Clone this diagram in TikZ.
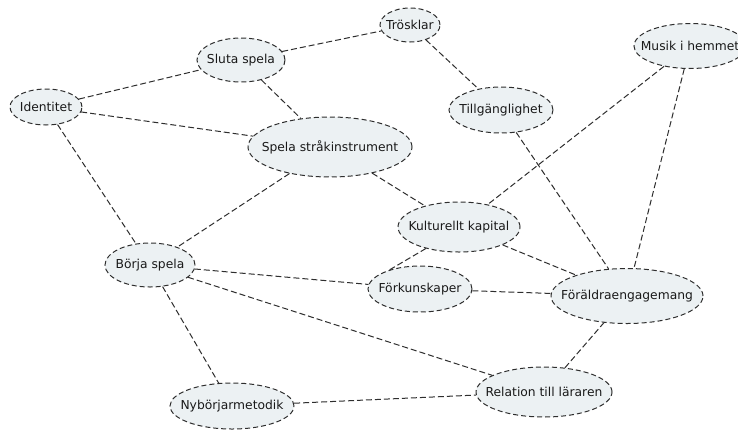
\documentclass[tikz,border=0pt]{standalone}
\usepackage{fontspec}
\setmainfont{DejaVu Sans}
\usetikzlibrary{shapes.geometric}
\definecolor{nodefill}{HTML}{ECF1F3}
\definecolor{linecol}{HTML}{2E2E2E}
\newcommand{\ztext}[1]{\makebox[0pt]{#1}}
\tikzset{
  topic/.style={ellipse, draw=linecol, fill=nodefill, line width=1pt,
    dash pattern=on 5pt off 3pt, inner sep=0pt, text=black!90,
    font=\fontsize{12.3}{14}\selectfont},
  link/.style={draw=linecol, line width=1pt, dash pattern=on 6pt off 3pt}
}
\begin{document}
\begin{tikzpicture}[x=1pt,y=-1pt]
\useasboundingbox (0,0) rectangle (738,429);
\fill[white] (0,0) rectangle (738,429);
\path
 (46,107) coordinate (cid)
 (241,60) coordinate (csl)
 (410,25) coordinate (ctr)
 (690,46) coordinate (cmu)
 (501,110) coordinate (cti)
 (330,147) coordinate (csp)
 (459,227) coordinate (cku)
 (420,289) coordinate (cfo)
 (627,296) coordinate (cfr)
 (544,392) coordinate (cre)
 (232,406) coordinate (cny)
 (150,265) coordinate (cbo);
\node[topic, minimum width=72, minimum height=36] (id) at (cid) {\ztext{Identitet}};
\node[topic, minimum width=88, minimum height=44] (sl) at (csl) {\ztext{Sluta spela}};
\node[topic, minimum width=60, minimum height=34] (tr) at (ctr) {\ztext{Trösklar}};
\node[topic, minimum width=112, minimum height=45] (mu) at (cmu) {\ztext{Musik i hemmet}};
\node[topic, minimum width=104, minimum height=46] (ti) at (cti) {\ztext{Tillgänglighet}};
\node[topic, minimum width=164, minimum height=60] (sp) at (csp) {\ztext{Spela stråkinstrument}};
\node[topic, minimum width=122, minimum height=50] (ku) at (cku) {\ztext{Kulturellt kapital}};
\node[topic, minimum width=104, minimum height=46] (fo) at (cfo) {\ztext{Förkunskaper}};
\node[topic, minimum width=152, minimum height=55] (fr) at (cfr) {\ztext{Föräldraengagemang}};
\node[topic, minimum width=136, minimum height=50] (re) at (cre) {\ztext{Relation till läraren}};
\node[topic, minimum width=124, minimum height=46] (ny) at (cny) {\ztext{Nybörjarmetodik}};
\node[topic, minimum width=90, minimum height=44] (bo) at (cbo) {\ztext{Börja spela}};
\draw[link] (id) -- (sl);
\draw[link] (id) -- (sp);
\draw[link] (id) -- (bo);
\draw[link] (sl) -- (tr);
\draw[link] (sl) -- (sp);
\draw[link] (tr) -- (ti);
\draw[link] (ti) -- (fr);
\draw[link] (mu) -- (ku);
\draw[link] (mu) -- (fr);
\draw[link] (sp) -- (ku);
\draw[link] (sp) -- (bo);
\draw[link] (ku.213) -- (fo.148);
\draw[link] (ku) -- (fr);
\draw[link] (fo) -- (fr);
\draw[link] (bo) -- (fo);
\draw[link] (bo) -- (re);
\draw[link] (bo) -- (ny);
\draw[link] (ny) -- (re);
\draw[link] (re) -- (fr);
\end{tikzpicture}
\end{document}
